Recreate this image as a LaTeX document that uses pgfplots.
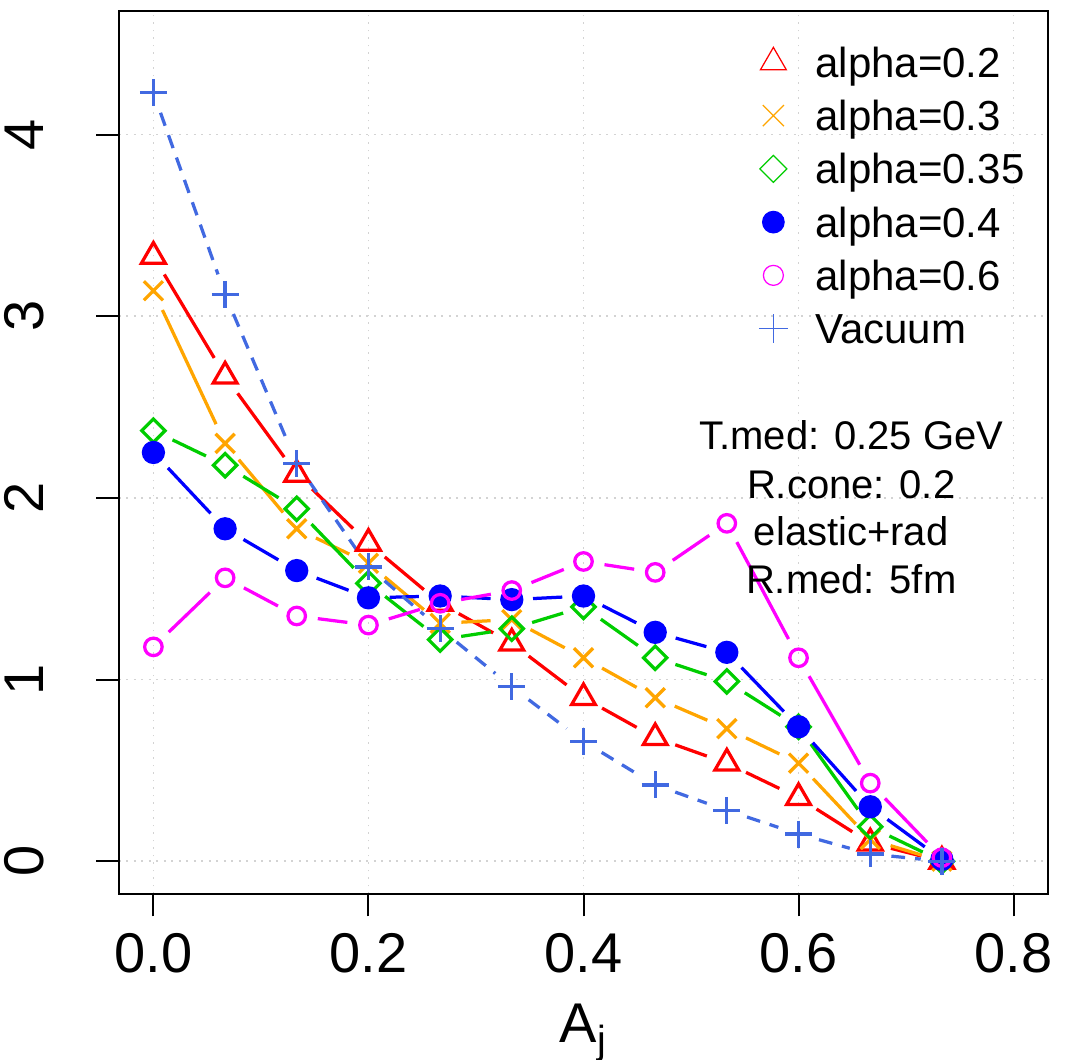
\documentclass[border=0pt]{standalone}
\usepackage{pgfplots}
\pgfplotsset{compat=1.18}
\usepackage{fontspec}
\setmainfont{Liberation Sans}
\definecolor{cRed}{RGB}{255,0,0}
\definecolor{cOrange}{RGB}{255,165,0}
\definecolor{cGreen}{RGB}{0,205,0}
\definecolor{cBlue}{RGB}{0,0,255}
\definecolor{cMagenta}{RGB}{255,0,255}
\definecolor{cRoyal}{RGB}{65,105,225}
\definecolor{cGrid}{RGB}{211,211,211}

\pgfplotstableread{
x       a02   a03   a035  a04   a06   vac
0.0000  3.33  3.14  2.37  2.25  1.18  4.23
0.0667  2.67  2.30  2.18  1.83  1.56  3.12
0.1333  2.13  1.83  1.94  1.60  1.35  2.19
0.2000  1.75  1.64  1.53  1.45  1.30  1.62
0.2667  1.42  1.31  1.22  1.46  1.42  1.28
0.3333  1.20  1.33  1.28  1.44  1.49  0.96
0.4000  0.90  1.12  1.40  1.46  1.65  0.66
0.4667  0.68  0.90  1.12  1.26  1.59  0.42
0.5333  0.54  0.73  0.99  1.15  1.86  0.28
0.6000  0.35  0.54  0.74  0.74  1.12  0.15
0.6667  0.10  0.12  0.19  0.30  0.43  0.04
0.7333  0.00  0.00  0.00  0.01  0.02  0.00
}\datatab

% line segments between successive points, with gaps round the points (R type="b")
\newcommand{\segs}[2]{%
  \pgfplotsinvokeforeach{0,...,10}{%
    \addplot[forget plot, #2, line width=1.3pt, no markers,
      shorten <=8.5pt, shorten >=8.5pt,
      x filter/.expression={(\coordindex<##1 || \coordindex>##1+1) ? nan : x}]
      table[x=x, y=#1] {\datatab};
  }%
}

\begin{document}
\begin{tikzpicture}
\begin{axis}[
  name=ax,
  scale only axis, width=371.6pt, height=353.2pt,
  xmin=-0.032, xmax=0.832, ymin=-0.18, ymax=4.68,
  xtick={0,0.2,0.4,0.6,0.8}, ytick={0,1,2,3,4},
  xticklabels={0.0,0.2,0.4,0.6,0.8},
  yticklabels={0,1,2,3,4},
  /pgf/number format/assume math mode=true,
  tick align=outside, major tick length=9pt,
  xtick pos=bottom, ytick pos=left,
  tick style={black, line width=0.8pt},
  axis line style={line width=0.8pt},
  grid=major,
  major grid style={cGrid, line width=0.7pt, dash pattern=on 0.7pt off 2.3pt},
  ticklabel style={font=\fontsize{22.4}{26}\selectfont},
  xticklabel style={anchor=north, inner sep=0pt, inner ysep=6.6pt},
  yticklabel style={rotate=90, anchor=south, inner sep=0pt, inner ysep=20.8pt},
  xlabel={A\textsubscript{j}},
  xlabel style={at={(axis description cs:0.5,0)}, anchor=base, yshift=-59.6pt, inner sep=0pt, font=\fontsize{22.4}{26}\selectfont},
  legend cell align=left,
  legend style={at={(axis cs:0.558,4.51)}, anchor=north west, draw=none, fill=none,
    inner sep=0pt, outer sep=0pt, row sep=3.5pt,
    font=\fontsize{16.8}{20}\selectfont,
    nodes={inner sep=0pt, text height=12pt, text depth=3.6pt}},
  legend image code/.code={%
    \pgfinterruptboundingbox
    \draw[#1] plot coordinates {(0pt,1.8pt)};
    \endpgfinterruptboundingbox
    \path[draw=none, fill=none] (-8pt,0pt) rectangle (16.8pt,10pt);},
]
% legend entries
\addlegendimage{only marks, cRed, line width=0.5pt, mark=triangle, mark size=6pt}
\addlegendentry{alpha=0.2}
\addlegendimage{only marks, cOrange, line width=0.5pt, mark=x, mark size=6pt}
\addlegendentry{alpha=0.3}
\addlegendimage{only marks, cGreen, line width=0.5pt, mark=square, mark size=3.8pt, mark options={rotate=45}}
\addlegendentry{alpha=0.35}
\addlegendimage{only marks, cBlue, line width=0.5pt, mark=*, mark size=4.3pt}
\addlegendentry{alpha=0.4}
\addlegendimage{only marks, cMagenta, line width=0.5pt, mark=o, mark size=4pt}
\addlegendentry{alpha=0.6}
\addlegendimage{only marks, cRoyal, line width=0.5pt, mark=+, mark size=5.8pt}
\addlegendentry{Vacuum}

% data
\segs{a02}{cRed}
\addplot[forget plot, only marks, cRed, line width=1.3pt, mark=triangle, mark size=5.5pt] table[x=x, y=a02] {\datatab};
\segs{a03}{cOrange}
\addplot[forget plot, only marks, cOrange, line width=1.3pt, mark=x, mark size=5.4pt] table[x=x, y=a03] {\datatab};
\segs{a035}{cGreen}
\addplot[forget plot, only marks, cGreen, line width=1.3pt, mark=square, mark size=3.3pt, mark options={rotate=45}] table[x=x, y=a035] {\datatab};
\segs{a04}{cBlue}
\addplot[forget plot, only marks, cBlue, line width=1.3pt, mark=*, mark size=4pt] table[x=x, y=a04] {\datatab};
\segs{a06}{cMagenta}
\addplot[forget plot, only marks, cMagenta, line width=1.3pt, mark=o, mark size=3.5pt] table[x=x, y=a06] {\datatab};
\segs{vac}{cRoyal, dash pattern=on 5.5pt off 4pt}
\addplot[forget plot, only marks, cRoyal, line width=1.3pt, mark=+, mark size=5.4pt] table[x=x, y=vac] {\datatab};

\node[anchor=base, inner sep=0pt, font=\fontsize{16}{19.2}\selectfont] at (axis cs:0.649,2.264) {T.med: 0.25 GeV};
\node[anchor=base, inner sep=0pt, font=\fontsize{16}{19.2}\selectfont] at (axis cs:0.649,1.995) {R.cone: 0.2};
\node[anchor=base, inner sep=0pt, font=\fontsize{16}{19.2}\selectfont] at (axis cs:0.649,1.736) {elastic+rad};
\node[anchor=base, inner sep=0pt, font=\fontsize{16}{19.2}\selectfont] at (axis cs:0.649,1.473) {R.med: 5fm};
\end{axis}
\pgfresetboundingbox
\path[use as bounding box] ([xshift=-47.6pt,yshift=-66.4pt]ax.south west) rectangle ([xshift=11.6pt,yshift=4.4pt]ax.north east);
\end{tikzpicture}
\end{document}
